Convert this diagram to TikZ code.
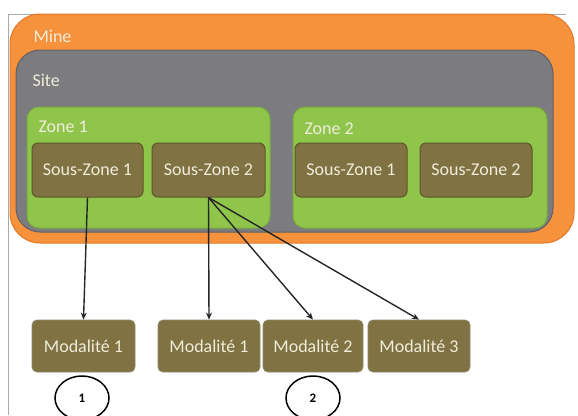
\documentclass[tikz,border=0pt]{standalone}
\usepackage{fontspec}
\setmainfont{Carlito}
\usepackage{xcolor}
\definecolor{mineorange}{RGB}{247,146,60}
\definecolor{mineedge}{RGB}{226,120,40}
\definecolor{sitegray}{RGB}{124,124,128}
\definecolor{siteedge}{RGB}{95,95,100}
\definecolor{zonegreen}{RGB}{144,197,76}
\definecolor{zoneedge}{RGB}{120,172,60}
\definecolor{boxbrown}{RGB}{128,114,66}
\definecolor{boxedge}{RGB}{92,86,40}
\definecolor{labelcream}{RGB}{240,236,218}
\definecolor{framegray}{RGB}{170,170,170}
\usepackage{tikz}
\usetikzlibrary{arrows.meta, positioning, shapes.geometric}

\begin{document}
\begin{tikzpicture}[x=1pt, y=-1pt,
  container/.style={draw, line width=1pt, minimum width=#1, inner sep=0pt},
  souszone/.style={draw=boxedge, fill=boxbrown, line width=1pt, rounded corners=6pt,
    minimum height=54pt, inner sep=0pt, text=labelcream, font=\fontsize{18}{20}\selectfont},
  modbox/.style={draw=boxedge!70, fill=boxbrown, line width=0.8pt, rounded corners=5pt,
    minimum height=52pt, inner sep=0pt, text=labelcream, font=\fontsize{18}{20}\selectfont},
  title/.style={anchor=west, text=labelcream, font=\fontsize{18}{20}\selectfont},
  marker/.style={draw, ellipse, line width=1.5pt, minimum width=54pt, minimum height=44pt,
    inner sep=0pt, font=\fontsize{13}{15}\selectfont\bfseries},
  link/.style={-{Stealth[length=7pt,width=6pt]}, line width=1.4pt, black!85}]
  \useasboundingbox (0,0) rectangle (578,415);

  % Page frame
  \draw[framegray, line width=0.8pt] (8,415) -- (8,14) -- (566,14);

  % Nested containers
  \node[container=564pt, draw=mineedge, fill=mineorange, minimum height=229pt,
    rounded corners=30pt] (mine) at (292,128.5) {};
  \node[container=537pt, draw=siteedge, fill=sitegray, minimum height=182pt,
    rounded corners=24pt] (site) at (284.5,141) {};
  \node[container=243pt, draw=zoneedge, fill=zonegreen, minimum height=121pt,
    rounded corners=12pt] (zone1) at (148.5,167.5) {};
  \node[container=254pt, draw=zoneedge, fill=zonegreen, minimum height=121pt,
    rounded corners=12pt] (zone2) at (420,167.5) {};

  % Container titles
  \node[title] (minelbl) at (30,36) {Mine};
  \node[title] (sitelbl) at (29,80) {Site};
  \node[title] (zone1lbl) at (35,127) {Zone 1};
  \node[title] (zone2lbl) at (301,129) {Zone 2};

  % Sous-zones
  \node[souszone, minimum width=111pt] (z1sz1) at (87.5,170) {Sous-Zone 1};
  \node[souszone, minimum width=113pt] (z1sz2) at (208.5,170) {Sous-Zone 2};
  \node[souszone, minimum width=112pt] (z2sz1) at (351,170) {Sous-Zone 1};
  \node[souszone, minimum width=112pt] (z2sz2) at (476,170) {Sous-Zone 2};

  % Modalites
  \node[modbox, minimum width=103pt] (mod1a) at (83.5,346) {Modalité 1};
  \node[modbox, minimum width=102pt] (mod1b) at (209,346) {Modalité 1};
  \node[modbox, minimum width=100pt] (mod2) at (313,346) {Modalité 2};
  \node[modbox, minimum width=102pt] (mod3) at (419,346) {Modalité 3};

  % Links
  \draw[link] (z1sz1.south) -- (mod1a.north);
  \draw[link] (z1sz2.south) -- (mod1b.north);
  \draw[link] (z1sz2.south) -- (mod2.north);
  \draw[link] (z1sz2.south) -- (mod3.north);

  % Case markers
  \node[marker] (case1) at (82,398) {1};
  \node[marker] (case2) at (313,398) {2};
\end{tikzpicture}
\end{document}
